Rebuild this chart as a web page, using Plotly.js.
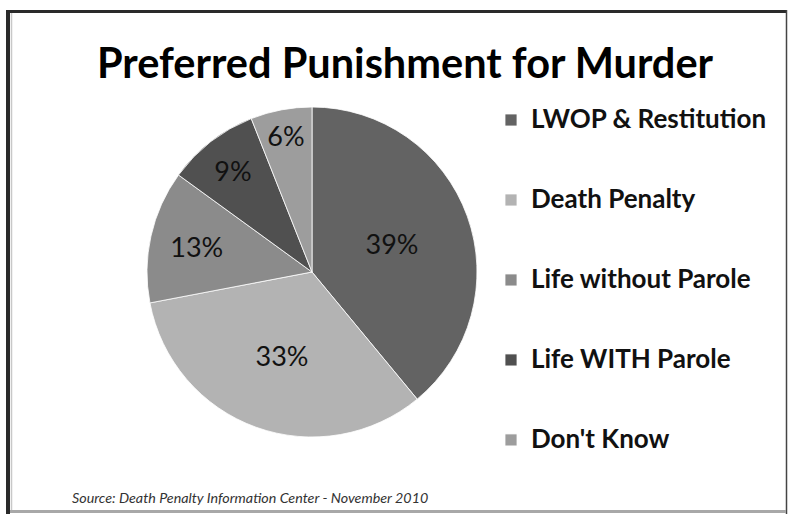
<!DOCTYPE html>
<html>
<head>
<meta charset="utf-8">
<script src="https://cdn.plot.ly/plotly-3.0.1.min.js"></script>
<style>html,body{margin:0;padding:0;background:#fff;}#chart{width:791px;height:517px;}</style>
</head>
<body>
<div id="chart"></div>
<script>
var categories = ["LWOP & Restitution", "Death Penalty", "Life without Parole", "Life WITH Parole", "Don't Know"];
var shares = [39, 33, 13, 9, 6];
var sliceColors = ["#636363", "#b3b3b3", "#8b8b8b", "#505050", "#9d9d9d"];
var chartTitle = "Preferred Punishment for Murder";
var sourceNote = "Source: Death Penalty Information Center - November 2010";

var W = 791, H = 517;
var cx = 312, cy = 272, r = 165;

var legendNames = categories.map(function (c) {
  return "\u00a0<br><span style=\"font-size:26px\"><b>" + c + "</b></span><br>\u00a0";
});

var trace = {
  type: "pie",
  labels: legendNames,
  values: shares,
  sort: false,
  direction: "clockwise",
  rotation: 0,
  marker: { colors: sliceColors, line: { color: "#ffffff", width: 0.8 } },
  textinfo: "percent",
  texttemplate: "%{value}%",
  textposition: "inside",
  insidetextorientation: "horizontal",
  insidetextfont: { family: "Lato, sans-serif", size: 27, color: "#111111" },
  hoverinfo: "none",
  domain: { x: [(cx - r) / W, (cx + r) / W], y: [(H - cy - r) / H, (H - cy + r) / H] }
};

var layout = {
  width: W, height: H,
  margin: { l: 0, r: 0, t: 0, b: 0 },
  paper_bgcolor: "#ffffff",
  title: {
    text: "<b>" + chartTitle + "</b>",
    font: { family: "Lato, sans-serif", size: 41.5, color: "#000000" },
    x: 405 / W, xanchor: "center", xref: "paper",
    y: 1 - 63 / H, yanchor: "middle", yref: "paper"
  },
  showlegend: true,
  legend: {
    x: 491 / W, xanchor: "left",
    y: 1 - 75 / H, yanchor: "top",
    font: { family: "Lato, sans-serif", size: 19.74, color: "#111111" },
    bgcolor: "rgba(0,0,0,0)",
    itemclick: false
  },
  annotations: [{
    text: "<i>" + sourceNote + "</i>",
    xref: "paper", yref: "paper",
    x: 70 / W, xanchor: "left",
    y: 1 - 497 / H, yanchor: "middle",
    showarrow: false,
    font: { family: "Lato, sans-serif", size: 14.3, color: "#333333" }
  }],
  shapes: [
    { type: "line", xref: "paper", yref: "paper", x0: 6 / W, x1: 787 / W, y0: 1 - 11.5 / H, y1: 1 - 11.5 / H, line: { color: "#2a2a2a", width: 3 } },
    { type: "line", xref: "paper", yref: "paper", x0: 8 / W, x1: 8 / W, y0: 1 - 10 / H, y1: 1 - 514 / H, line: { color: "#2a2a2a", width: 4 } },
    { type: "line", xref: "paper", yref: "paper", x0: 11.5 / W, x1: 11.5 / W, y0: 1 - 13 / H, y1: 1 - 510 / H, line: { color: "#c8c8c8", width: 1.5 } },
    { type: "line", xref: "paper", yref: "paper", x0: 786.5 / W, x1: 786.5 / W, y0: 1 - 10 / H, y1: 1 - 514 / H, line: { color: "#444444", width: 1.5 } },
    { type: "line", xref: "paper", yref: "paper", x0: 10 / W, x1: 786 / W, y0: 1 - 511.5 / H, y1: 1 - 511.5 / H, line: { color: "#a8a8a8", width: 3 } }
  ]
};

Plotly.newPlot("chart", [trace], layout, { displayModeBar: false, staticPlot: true });
</script>
</body>
</html>
